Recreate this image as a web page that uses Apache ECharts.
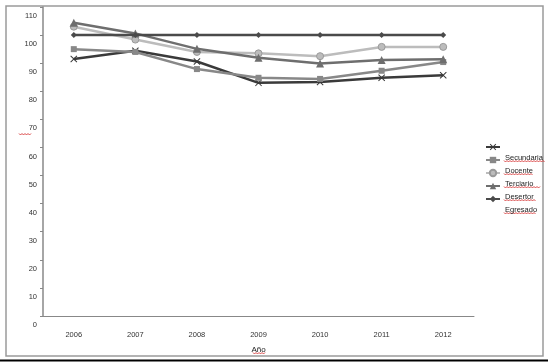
<!DOCTYPE html>
<html><head><meta charset="utf-8">
<script src="https://cdn.jsdelivr.net/npm/echarts@6/dist/echarts.min.js"></script>
<style>html,body{margin:0;padding:0;background:#fff}#c{width:548px;height:362px}</style>
</head><body><div id="c"></div>
<script>
const years = ['2006','2007','2008','2009','2010','2011','2012'];
const yTicks = [0,10,20,30,40,50,60,70,80,90,100,110];
const names = ['Secundaria','Docente','Terciario','Desertor','Egresado'];
const secundaria = [91.5, 94.4, 90.6, 83.0, 83.3, 84.8, 85.7];
const docente    = [95.0, 94.0, 87.9, 84.8, 84.4, 87.3, 90.4];
const terciario  = [103.0, 98.4, 94.0, 93.5, 92.5, 95.8, 95.8];
const desertor   = [104.4, 100.6, 95.1, 91.9, 89.9, 91.1, 91.4];
const egresado   = [100, 100, 100, 100, 100, 100, 100];

const crossPath = 'path://M0,1L1,0L5,4L9,0L10,1L6,5L10,9L9,10L5,6L1,10L0,9L4,5Z';
const styles = [
  {color:'#3a3a3a', symbol: crossPath, size: 7},
  {color:'#888888', symbol: 'rect', size: 6},
  {color:'#bcbcbc', symbol: 'circle', size: 7, border:'#9a9a9a'},
  {color:'#6e6e6e', symbol: 'triangle', size: 8},
  {color:'#4a4a4a', symbol: 'diamond', size: 6}
];
const dataSets = [secundaria, docente, terciario, desertor, egresado];

function squiggle(x, y, w) {
  const pts = [];
  for (let i = 0; i <= w; i += 1.5) pts.push([x + i, y + ((Math.round(i / 1.5) % 2) ? 1 : -0.5)]);
  return {type:'polyline', shape:{points: pts}, style:{stroke:'#d02020', lineWidth:0.8, fill:null}, silent:true};
}

const chart = echarts.init(document.getElementById('c'));
const graphics = [
  {type:'rect', shape:{x:6, y:6, width:537, height:350}, style:{fill:null, stroke:'#9a9a9a', lineWidth:1.5}, silent:true},
  {type:'line', shape:{x1:0, y1:360.5, x2:548, y2:360.5}, style:{stroke:'#000', lineWidth:2}, silent:true},
  squiggle(19, 134, 13),
  squiggle(253, 353, 13)
];
for (let i = 0; i < names.length; i++) {
  graphics.push(squiggle(504, 161 + i * 13, names[i].length * 4.1));
}
chart.setOption({
  animation: false,
  backgroundColor: '#fff',
  textStyle: {fontFamily: 'Liberation Sans'},
  grid: {left: 43, top: 7, right: 74, bottom: 46, containLabel: false, outerBoundsMode: 'none'},
  graphic: graphics,
  legend: {
    orient: 'vertical', left: 485, top: 130.5, padding: 0,
    itemWidth: 14, itemHeight: 8, itemGap: -20,
    formatter: n => '\n\n' + n,
    textStyle: {fontSize: 7.5, color: '#222', lineHeight: 11, fontFamily: 'Liberation Sans'},
    data: names
  },
  xAxis: {
    type: 'category', data: years, boundaryGap: true,
    name: 'Año', nameLocation: 'middle', nameGap: 30,
    nameTextStyle: {fontSize: 8, color: '#222', fontFamily: 'Liberation Sans'},
    axisLine: {lineStyle: {color: '#888', width: 1}},
    axisTick: {length: 3, lineStyle: {color: '#888'}},
    axisLabel: {fontSize: 7.5, color: '#333', margin: 15}
  },
  yAxis: {
    type: 'value', min: 0, max: 110, interval: 10,
    splitLine: {show: false},
    axisLine: {show: true, lineStyle: {color: '#888', width: 1.5}},
    axisTick: {show: true, length: 3, lineStyle: {color: '#888'}},
    axisLabel: {fontSize: 7.5, color: '#333', margin: 6, lineHeight: 18, verticalAlign: 'top',
      showMinLabel: true, showMaxLabel: true,
      formatter: v => yTicks.includes(v) ? String(v) : ''}
  },
  series: names.map((n, i) => ({
    name: n, type: 'line', data: dataSets[i],
    symbol: styles[i].symbol, symbolSize: styles[i].size,
    lineStyle: {color: styles[i].color, width: 2.5},
    itemStyle: {color: styles[i].color, borderColor: styles[i].border || styles[i].color, borderWidth: styles[i].border ? 1 : 0},
    z: 2 + i
  }))
});
</script></body></html>
